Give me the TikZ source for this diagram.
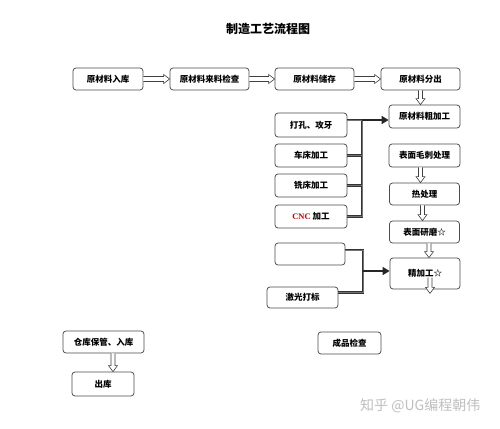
\documentclass[tikz,border=0pt]{standalone}
\usepackage{fontspec}
\setmainfont{Noto Sans CJK SC}
\newfontfamily\latinserif{Liberation Serif}
\usetikzlibrary{arrows.meta,calc}

\tikzset{
  box/.style={draw=black!70,line width=0.75pt,rounded corners=3pt,fill=white,
    inner sep=0pt,font=\bfseries\fontsize{8.5}{9}\selectfont},
  hollow/.style={draw=black!75,line width=0.6pt,fill=white},
  bus/.style={draw=black!80,double=black!55,double distance=0.7pt,line width=0.7pt},
  feed/.style={draw=black!85,line width=1.6pt,-{Triangle[length=7pt,width=8pt]}}
}

% 空心箭头：向右、向下
\newcommand{\hollowright}[2]{\draw[hollow] let \p1=(#1), \p2=(#2) in
  (\x1,\y1+2.5pt) -- (\x2-6pt,\y1+2.5pt) -- (\x2-6pt,\y1+4.5pt) -- (\x2,\y1)
  -- (\x2-6pt,\y1-4.5pt) -- (\x2-6pt,\y1-2.5pt) -- (\x1,\y1-2.5pt);}
\newcommand{\hollowdown}[2]{\draw[hollow] let \p1=(#1), \p2=(#2) in
  (\x1-2pt,\y1) -- (\x1-2pt,\y2+6pt) -- (\x1-4.5pt,\y2+6pt) -- (\x1,\y2)
  -- (\x1+4.5pt,\y2+6pt) -- (\x1+2pt,\y2+6pt) -- (\x1+2pt,\y1);}

\begin{document}
\begin{tikzpicture}[x=1pt,y=-1pt]
    \useasboundingbox[fill=white] (0,0) rectangle (500,428);
    % 标题
    \node[font=\bfseries\fontsize{12}{12}\selectfont] (title) at (268,29) {制造工艺流程图};
    % 第一行
    \node[box,minimum width=70pt,minimum height=22pt] (ruku) at (108,79) {原材料入库};
    \node[box,minimum width=79pt,minimum height=22pt] (jianyan) at (209.5,79) {原材料来料检查};
    \node[box,minimum width=79pt,minimum height=22pt] (chucun) at (314.5,79) {原材料储存};
    \node[box,minimum width=79pt,minimum height=22pt] (fenchu) at (420.5,79) {原材料分出};
    \hollowright{ruku.east}{jianyan.west}
    \hollowright{jianyan.east}{chucun.west}
    \hollowright{chucun.east}{fenchu.west}
    % 右列
    \node[box,minimum width=71pt,minimum height=23pt] (cujia) at (424.5,116.5) {原材料粗加工};
    \node[box,minimum width=71pt,minimum height=23pt] (maoci) at (424.5,155.5) {表面毛刺处理};
    \node[box,minimum width=70pt,minimum height=22pt] (rechuli) at (424.5,194) {热处理};
    \node[box,minimum width=70pt,minimum height=22pt] (yanmo) at (424.5,232) {表面研磨☆};
    \node[box,minimum width=70pt,minimum height=31pt] (jingjia) at (425,273.5) {精加工☆};
    \hollowdown{fenchu.south}{cujia.north}
    \hollowdown{[xshift=-4pt]maoci.south}{rechuli.north}
    \hollowdown{[xshift=-2pt]rechuli.south}{yanmo.north}
    \hollowdown{[xshift=4.5pt]yanmo.south}{jingjia.north}
    \coordinate (jingin) at ([xshift=5pt,yshift=-4pt]jingjia.center);
    \coordinate (jingout) at ([xshift=5pt,yshift=-4pt]jingjia.south);
    \hollowdown{jingin}{jingout}
    % 左列：机加工
    \node[box,minimum width=72pt,minimum height=24pt] (dakong) at (311,125) {打孔、攻牙};
    \node[box,minimum width=72pt,minimum height=23pt] (chechuang) at (311,155.5) {车床加工};
    \node[box,minimum width=72pt,minimum height=23pt] (xichuang) at (311,185.5) {铣床加工};
    \node[box,minimum width=72pt,minimum height=23pt] (cnc) at (311,216.5)
        {\textcolor{red!80!black}{\latinserif\bfseries CNC}\ 加工};
    \coordinate (busA) at (362,120);
    \draw[bus] ([yshift=5pt]dakong.east) -- (busA) -- (busA |- cnc.east) -- (cnc.east);
    \draw[bus] (chechuang.east) -- (chechuang.east -| busA);
    \draw[bus] (xichuang.east) -- (xichuang.east -| busA);
    \draw[feed] (busA) -- (busA -| cujia.west);
    % 左列：精加工前
    \node[box,minimum width=70pt,minimum height=22pt] (kong) at (310,254) {};
    \node[box,minimum width=71pt,minimum height=21pt] (jiguang) at (302.5,297.5) {激光打标};
    \coordinate (busB) at (363,271);
    \coordinate (jgout) at ([yshift=5pt]jiguang.east);
    \draw[bus] ([yshift=4pt]kong.east) -| (busB |- jgout) -- (jgout);
    \draw[feed] (busB) -- (busB -| jingjia.west);
    % 底部
    \node[box,minimum width=81pt,minimum height=22pt] (cangku) at (103.5,342) {仓库保管、入库};
    \node[box,minimum width=62pt,minimum height=24pt] (chuku) at (103,384) {出库};
    \node[box,minimum width=63pt,minimum height=22pt] (chengpin) at (349.5,343) {成品检查};
    \hollowdown{[xshift=9.5pt]cangku.south}{chuku.north}
    % 水印
    \node[anchor=west,text=black!25,font=\fontsize{14}{14}\selectfont,inner sep=0pt] (mark) at (360,406) {知乎 @UG编程朝伟};
\end{tikzpicture}
\end{document}
